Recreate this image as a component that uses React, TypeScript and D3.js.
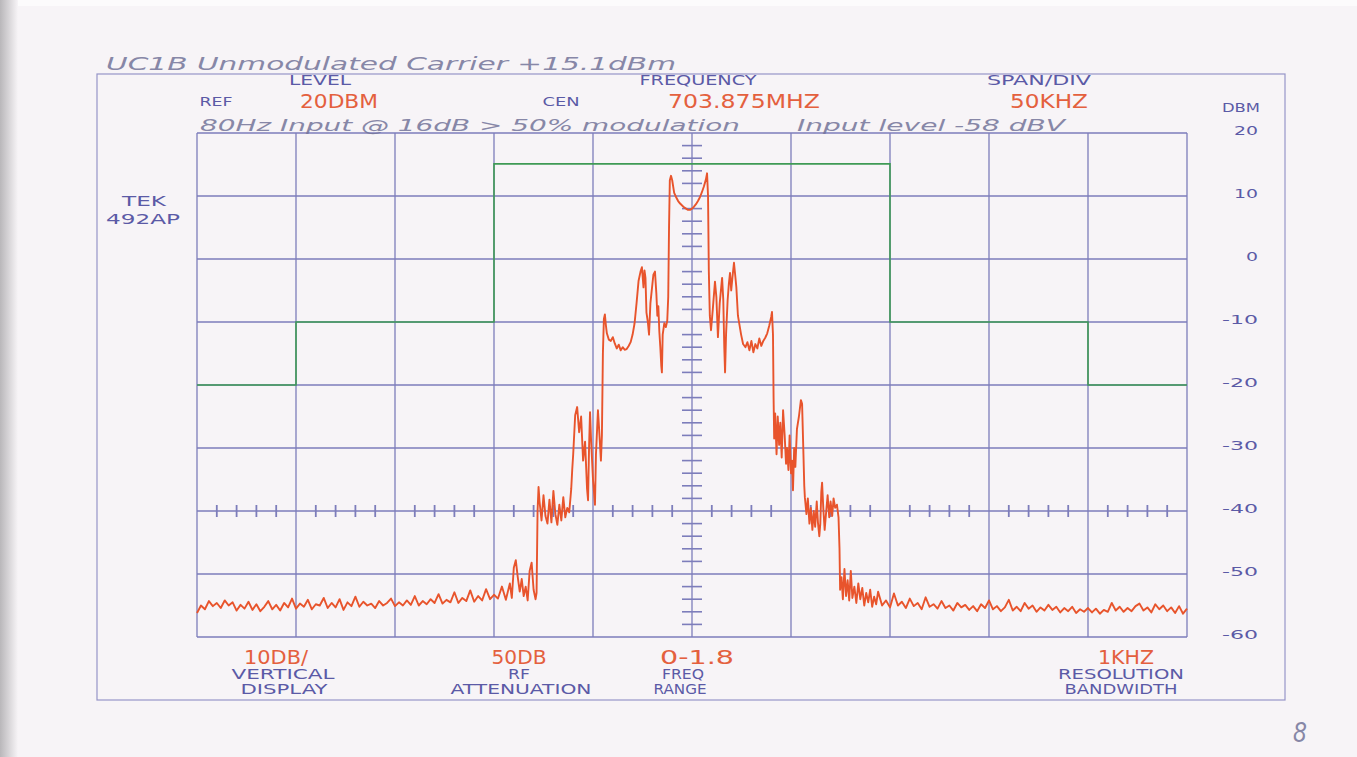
import React from 'react';
import * as d3 from 'd3';

// ---------- data ----------
const freqGridKHz = [-250, -200, -150, -100, -50, 0, 50, 100, 150, 200, 250];
const dbmTicks = [20, 10, 0, -10, -20, -30, -40, -50, -60];
const dbmTickLabels = ['20', '10', '0', '-10', '-20', '-30', '-40', '-50', '-60'];

// limit mask (kHz offset, dBm), step after
const maskLimit: [number, number][] = [
  [-250, -20], [-200, -10], [-100, 15.1], [100, -10], [200, -20], [250, -20],
];

// spectrum trace, [kHz offset from 703.875 MHz, dBm]
const leftFloor: [number, number][] = [
  [-250, -56.2], [-248, -55.0], [-246, -55.6], [-244, -54.3], [-242, -55.1], [-240, -54.6], [-238, -55.4], [-236, -54.2],
  [-234, -55.0], [-232, -54.5], [-230, -55.8], [-228, -54.9], [-226, -55.5], [-224, -54.4], [-222, -55.7], [-220, -54.8],
  [-218, -55.9], [-216, -55.2], [-214, -54.3], [-212, -55.6], [-210, -54.9], [-208, -55.8], [-206, -54.6], [-204, -55.3],
  [-202, -53.9], [-200, -55.5], [-198, -54.7], [-196, -55.2], [-194, -54.1], [-192, -55.6], [-190, -54.8], [-188, -55.0],
  [-186, -53.8], [-184, -55.4], [-182, -54.6], [-180, -55.3], [-178, -54.0], [-176, -55.7], [-174, -54.5], [-172, -55.1],
  [-170, -53.6], [-168, -55.2], [-166, -54.4], [-164, -55.0], [-162, -54.7], [-160, -55.4], [-158, -54.3], [-156, -55.0],
  [-154, -54.6], [-152, -53.9], [-150, -55.1], [-148, -54.5], [-146, -55.0], [-144, -54.2], [-142, -54.9], [-140, -53.5],
  [-138, -55.0], [-136, -54.3], [-134, -54.8], [-132, -54.0], [-130, -54.6], [-128, -53.2], [-126, -54.7], [-124, -54.1],
  [-122, -54.5], [-120, -52.9], [-118, -54.6], [-116, -53.8], [-114, -54.3], [-112, -52.6], [-110, -54.4], [-108, -53.5],
  [-106, -54.2], [-104, -52.4], [-102, -54.0], [-100, -53.3], [-98, -53.9], [-96, -52.0], [-94, -54.1],
];

const leftSidebands: [number, number][] = [
  [-92, -51.5], [-91, -53.8], [-90, -49.0], [-89, -47.8], [-88, -50.5], [-87, -52.8], [-86, -50.8], [-85, -53.5],
  [-84, -52.0], [-83, -54.2], [-82, -49.5], [-81, -48.2], [-80, -52.5], [-79, -54.0], [-78.5, -53.0], [-78, -40.0],
  [-77.5, -36.2], [-77, -38.5], [-76, -41.5], [-75, -37.5], [-74, -40.8], [-73, -42.0], [-72, -38.2], [-71, -41.8],
  [-70, -36.8], [-69, -40.5], [-68, -42.2], [-67, -39.0], [-66, -41.5], [-65, -37.8], [-64, -41.0], [-63, -39.5],
  [-62, -40.2], [-61, -36.5], [-60.5, -33.5], [-60, -31.0], [-59, -24.8], [-58, -23.5], [-57, -27.5], [-56, -25.0],
  [-55, -32.0], [-54, -29.0], [-53, -36.5], [-52.5, -38.3], [-52, -30.0], [-51.5, -24.3], [-51, -28.5], [-50, -35.0],
  [-49, -39.0], [-48.5, -31.0], [-47.5, -24.0], [-47, -26.5], [-46, -32.0], [-45.5, -28.0], [-45, -15.0], [-44.5, -9.5],
  [-44, -8.8], [-43.5, -10.5], [-43, -11.8], [-42, -12.8], [-41, -13.0], [-40, -12.4], [-39, -13.4], [-38, -14.2],
  [-37, -13.6], [-36, -14.5], [-35, -14.0], [-34, -14.4], [-33, -14.3], [-32, -13.8], [-31, -13.2], [-30, -12.0],
  [-29, -10.2], [-28, -7.0], [-27, -3.5], [-26, -2.0], [-25.3, -1.3], [-24.5, -4.5], [-24, -1.8], [-23.5, -3.0],
  [-23, -8.5], [-22.3, -10.0], [-21.7, -12.0], [-21, -7.0], [-20, -4.0], [-19.5, -2.5], [-18.7, -2.0], [-18, -5.5],
  [-17.5, -9.0], [-17, -7.5], [-16.5, -11.5], [-16, -14.0], [-15.5, -17.0], [-15.2, -18.0], [-14.8, -12.0], [-14, -10.2],
  [-13.2, -10.8], [-12.5, -9.8], [-12, -6.0],
];

const carrier: [number, number][] = [
  [-11.6, 5.0], [-11.2, 12.5], [-10.6, 13.2], [-10, 12.5], [-9, 10.5], [-8, 9.8], [-7, 9.2], [-6, 8.8], [-5, 8.5],
  [-4, 8.2], [-3, 8.0], [-2, 7.8], [-1, 7.8], [0, 8.0], [1, 8.3], [2, 8.7], [3, 9.2], [4, 9.8], [5, 10.6],
  [6, 11.5], [7, 12.6], [7.6, 13.6], [8.1, 10.0],
];

const rightSidebands: [number, number][] = [
  [8.5, -2.0], [9, -9.0], [9.6, -11.3], [10.5, -8.0], [11.6, -3.6], [12.3, -6.0], [13.1, -12.4], [14, -7.0],
  [15.2, -3.0], [15.8, -6.5], [16.3, -14.0], [16.7, -18.0], [17.2, -12.0], [18, -6.5], [18.6, -4.0], [19.2, -2.2],
  [19.8, -5.0], [20.4, -3.0], [21.2, -0.6], [21.8, -2.5], [22.4, -4.5], [23.2, -9.0], [24, -10.5], [24.8, -12.0],
  [25.8, -13.5], [27, -14.0], [28, -13.2], [29, -14.5], [30, -13.0], [31, -14.8], [32, -13.5], [33, -14.2],
  [34, -12.6], [35, -13.8], [36, -13.0], [37, -12.5], [38, -11.8], [39, -10.6], [40, -9.2], [40.4, -8.4],
  [40.9, -12.0], [41.2, -22.0], [41.5, -28.5], [42, -24.5], [42.7, -31.0], [43.3, -25.0], [44, -29.5], [44.6, -26.0],
  [45.3, -31.5], [46, -24.0], [46.8, -28.0], [47.5, -32.5], [48, -30.0], [48.7, -33.5], [49.3, -28.0], [50, -34.0],
  [50.5, -32.0], [51, -36.7], [51.6, -30.0], [52.2, -33.0], [53, -27.0], [54, -25.0], [55, -22.4], [55.6, -23.0],
  [56.2, -30.0], [56.7, -36.0], [57, -37.8], [57.8, -40.5], [58.5, -38.0], [59.3, -42.0], [60, -39.5], [60.8, -43.0],
  [61.5, -40.0], [62.2, -42.5], [63, -38.5], [63.6, -41.8], [64.3, -44.0], [64.8, -42.0], [65.3, -37.0], [65.7, -35.5],
  [66.3, -39.5], [67, -43.0], [67.8, -40.0], [68.5, -37.5], [69.3, -41.0], [70, -38.5], [70.8, -40.8], [71.5, -38.0],
  [72.3, -39.5], [73.2, -39.0], [74, -41.0], [74.5, -46.0], [74.8, -52.5], [75.5, -50.5], [76.2, -54.0], [77, -49.2],
  [77.8, -53.5], [78.6, -51.0], [79.4, -54.2], [80.2, -49.5], [81, -53.8], [82, -52.0], [83, -54.6], [84, -51.5],
  [85, -54.0], [86, -52.2], [87, -55.0], [88, -53.0], [89, -54.5], [90, -52.5], [91, -55.2], [92, -53.6],
  [93, -54.8], [94, -52.8],
];

const rightFloor: [number, number][] = [
  [96, -55.0], [98, -54.2], [100, -55.3], [102, -53.1], [104, -55.0], [106, -54.4], [108, -55.4], [110, -53.9],
  [112, -55.1], [114, -54.6], [116, -55.6], [118, -53.7], [120, -55.2], [122, -54.8], [124, -55.5], [126, -54.3],
  [128, -55.4], [130, -55.0], [132, -55.8], [134, -54.6], [136, -55.3], [138, -54.9], [140, -55.7], [142, -55.1],
  [144, -55.9], [146, -54.8], [148, -55.4], [150, -54.2], [152, -55.6], [154, -55.1], [156, -55.9], [158, -55.3],
  [160, -54.1], [162, -55.8], [164, -55.2], [166, -55.9], [168, -54.6], [170, -55.5], [172, -55.0], [174, -56.0],
  [176, -55.3], [178, -55.8], [180, -54.9], [182, -55.7], [184, -55.2], [186, -56.1], [188, -55.4], [190, -55.9],
  [192, -55.2], [194, -56.2], [196, -55.6], [198, -56.0], [200, -55.4], [202, -56.1], [204, -55.5], [206, -56.3],
  [208, -55.7], [210, -56.0], [212, -54.6], [214, -55.8], [216, -55.2], [218, -56.0], [220, -55.4], [222, -55.9],
  [224, -55.1], [226, -54.7], [228, -55.8], [230, -55.3], [232, -56.1], [234, -54.8], [236, -55.6], [238, -55.0],
  [240, -55.9], [242, -55.3], [244, -56.2], [246, -55.1], [248, -56.3], [250, -55.5],
];

// ---------- styles ----------
const BLUE = '#5b5aa6';
const RED = '#e4603e';
const GRID = '#7d7dbb';
const TRACE = '#e8542c';
const GREEN = '#3f9a55';
const PEN = '#74749a';
const FONT = '"DejaVu Sans", sans-serif';

type TP = { x: number; y: number; t: string; w: number; s: number; c: string; a?: 'start' | 'middle' | 'end' };
const T = ({ x, y, t, w, s, c, a = 'middle' }: TP) => (
  <text x={x} y={y} fontSize={s} fill={c} textAnchor={a} fontFamily={FONT}
    textLength={w} lengthAdjust="spacingAndGlyphs">{t}</text>
);
const H = ({ x, y, t, w, s }: { x: number; y: number; t: string; w: number; s: number }) => (
  <text x={x} y={y} fontSize={s} fill={PEN} fontFamily={FONT} fontStyle="italic" fontWeight={300}
    textLength={w} lengthAdjust="spacingAndGlyphs" opacity={0.85}>{t}</text>
);

export default function App() {
  const W = 1357, HH = 757;
  const x = d3.scaleLinear().domain([-250, 250]).range([197, 1187]);
  const y = d3.scaleLinear().domain([-60, 20]).range([637, 133]);

  const line = d3.line<[number, number]>().x(d => x(d[0])).y(d => y(d[1]));
  const stepLine = d3.line<[number, number]>().x(d => x(d[0])).y(d => y(d[1])).curve(d3.curveStepAfter);
  const trace = [...leftFloor, ...leftSidebands, ...carrier, ...rightSidebands, ...rightFloor];

  const minorDb = d3.range(-58, 20, 2).filter(v => v % 10 !== 0);
  const minorKHz = d3.range(-240, 250, 10).filter(v => v % 50 !== 0);
  const x0 = x(0), yRef = y(-40);

  return (
    <svg width={W} height={HH} style={{ position: 'absolute', left: 0, top: 0 }}>
      <defs>
        <linearGradient id="edge" x1="0" x2="1" y1="0" y2="0">
          <stop offset="0" stopColor="#b9b7ba" />
          <stop offset="1" stopColor="#f7f4f7" />
        </linearGradient>
      </defs>
      <rect x={0} y={0} width={W} height={HH} fill="#f7f4f7" />
      <rect x={0} y={0} width={W} height={6} fill="#fcfbfc" />
      <rect x={0} y={0} width={18} height={HH} fill="url(#edge)" />

      {/* outer frame */}
      <rect x={97} y={74} width={1188} height={626} fill="none" stroke={GRID} strokeWidth={1.2} opacity={0.8} />

      {/* grid */}
      {freqGridKHz.map(f => (
        <line key={'v' + f} x1={x(f)} x2={x(f)} y1={y(20)} y2={y(-60)} stroke={GRID} strokeWidth={1.3} />
      ))}
      {dbmTicks.map(v => (
        <line key={'h' + v} x1={x(-250)} x2={x(250)} y1={y(v)} y2={y(v)} stroke={GRID} strokeWidth={1.3} />
      ))}
      {minorDb.map(v => (
        <line key={'md' + v} x1={x0 - 10} x2={x0 + 10} y1={y(v)} y2={y(v)} stroke={GRID} strokeWidth={1.6} />
      ))}
      {minorKHz.map(f => (
        <line key={'mk' + f} x1={x(f)} x2={x(f)} y1={yRef - 6} y2={yRef + 6} stroke={GRID} strokeWidth={1.8} />
      ))}

      {/* limit mask */}
      <path d={stepLine(maskLimit) || ''} fill="none" stroke={GREEN} strokeWidth={1.6} />

      {/* trace */}
      <path d={line(trace) || ''} fill="none" stroke={TRACE} strokeWidth={1.9} strokeLinejoin="round" />

      {/* right axis labels */}
      <T x={1241} y={112} t="DBM" w={38} s={13} c={BLUE} />
      {dbmTicks.map((v, i) => (
        <T key={'l' + v} x={1258} y={y(v) + 2} t={dbmTickLabels[i]} w={dbmTickLabels[i].length * 12} s={13} c={BLUE} a="end" />
      ))}

      {/* header */}
      <T x={320} y={85} t="LEVEL" w={62} s={14} c={BLUE} />
      <T x={216} y={106} t="REF" w={33} s={13} c={BLUE} />
      <T x={339} y={108} t="20DBM" w={78} s={19} c={RED} />
      <T x={561} y={106} t="CEN" w={37} s={13} c={BLUE} />
      <T x={698} y={85} t="FREQUENCY" w={117} s={14} c={BLUE} />
      <T x={744} y={108} t="703.875MHZ" w={152} s={19} c={RED} />
      <T x={1039} y={85} t="SPAN/DIV" w={104} s={14} c={BLUE} />
      <T x={1049} y={108} t="50KHZ" w={78} s={19} c={RED} />

      <T x={144} y={206} t="TEK" w={44} s={14} c={BLUE} />
      <T x={143} y={224} t="492AP" w={74} s={14} c={BLUE} />

      {/* bottom */}
      <T x={276} y={664} t="10DB/" w={64} s={19} c={RED} />
      <T x={283} y={679} t="VERTICAL" w={103} s={14} c={BLUE} />
      <T x={284} y={694} t="DISPLAY" w={87} s={14} c={BLUE} />
      <T x={519} y={664} t="50DB" w={55} s={19} c={RED} />
      <T x={519} y={679} t="RF" w={22} s={14} c={BLUE} />
      <T x={521} y={694} t="ATTENUATION" w={141} s={14} c={BLUE} />
      <T x={697} y={664} t="0-1.8" w={74} s={19} c={RED} />
      <T x={683} y={679} t="FREQ" w={42} s={14} c={BLUE} />
      <T x={680} y={694} t="RANGE" w={53} s={14} c={BLUE} />
      <T x={1126} y={664} t="1KHZ" w={56} s={19} c={RED} />
      <T x={1121} y={679} t="RESOLUTION" w={126} s={14} c={BLUE} />
      <T x={1121} y={694} t="BANDWIDTH" w={113} s={14} c={BLUE} />

      {/* handwritten notes */}
      <H x={106} y={70} t="UC1B  Unmodulated  Carrier  +15.1dBm" w={570} s={17} />
      <H x={200} y={131} t="80Hz Input @ 16dB > 50% modulation" w={540} s={15} />
      <H x={797} y={131} t="Input level -58 dBV" w={268} s={15} />
      <H x={1293} y={742} t="8" w={14} s={26} />
    </svg>
  );
}
